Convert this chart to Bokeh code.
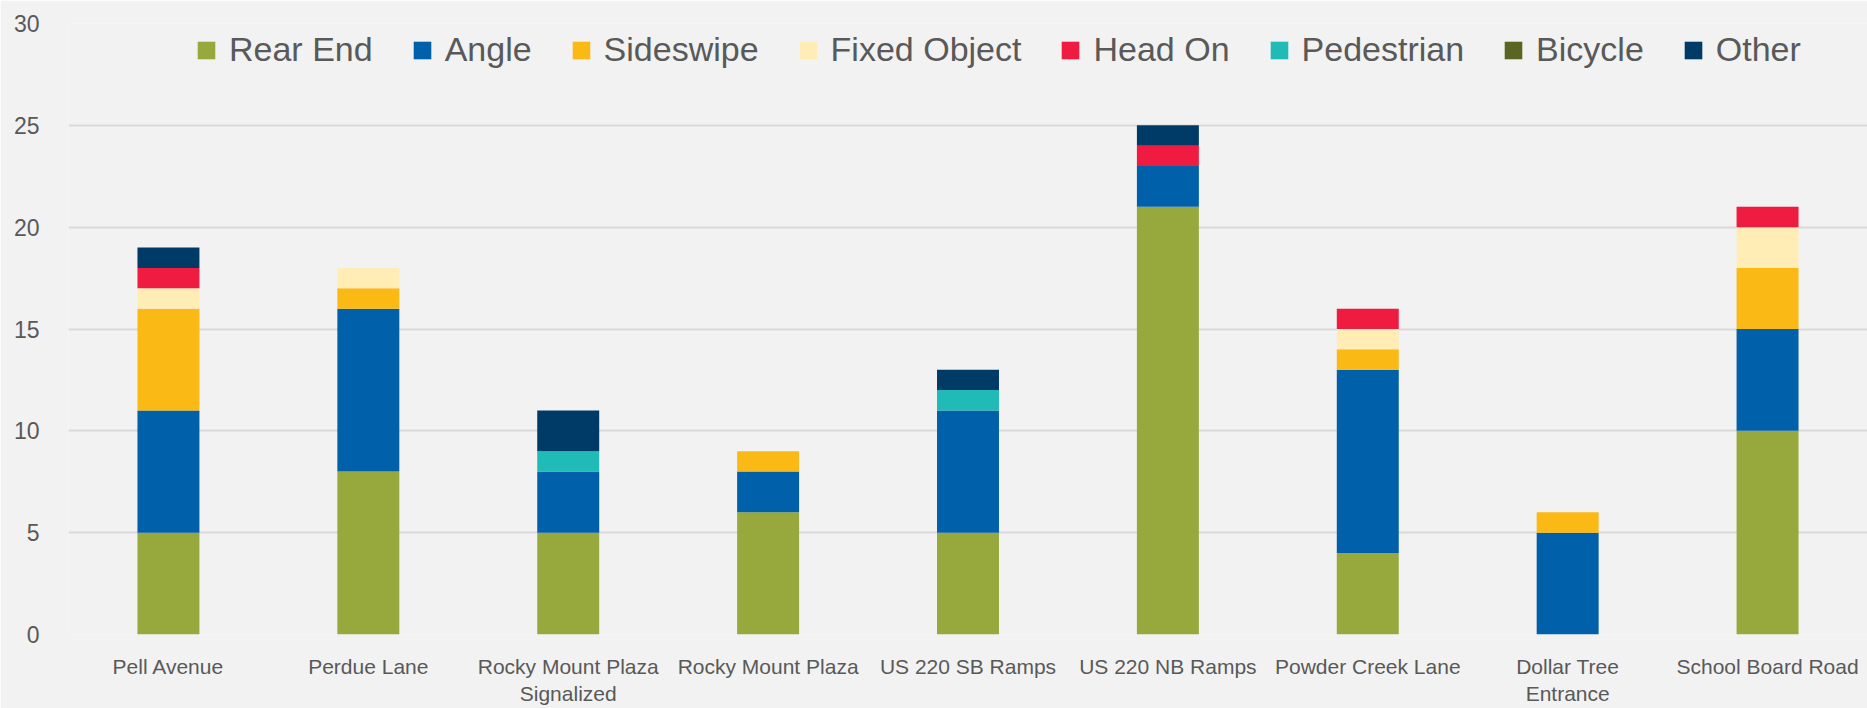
from bokeh.plotting import figure
from bokeh.models import FactorRange, Legend, LegendItem, SingleIntervalTicker
from bokeh.embed import file_html
from bokeh.resources import INLINE

categories = ["Pell Avenue", "Perdue Lane", "Rocky Mount Plaza\nSignalized", "Rocky Mount Plaza",
              "US 220 SB Ramps", "US 220 NB Ramps", "Powder Creek Lane", "Dollar Tree\nEntrance",
              "School Board Road"]
rear_end = [5, 8, 5, 6, 5, 21, 4, 0, 10]
angle = [6, 8, 3, 2, 6, 2, 9, 5, 5]
sideswipe = [5, 1, 0, 1, 0, 0, 1, 1, 3]
fixed_object = [1, 1, 0, 0, 0, 0, 1, 0, 2]
head_on = [1, 0, 0, 0, 0, 1, 1, 0, 1]
pedestrian = [0, 0, 1, 0, 1, 0, 0, 0, 0]
bicycle = [0, 0, 0, 0, 0, 0, 0, 0, 0]
other = [1, 0, 2, 0, 1, 1, 0, 0, 0]

series_names = ["Rear End", "Angle", "Sideswipe", "Fixed Object", "Head On", "Pedestrian", "Bicycle", "Other"]
series_values = [rear_end, angle, sideswipe, fixed_object, head_on, pedestrian, bicycle, other]
colors = ["#97A93C", "#0060AA", "#FBB915", "#FFEDB5", "#EF1B40", "#20BBB7", "#5A6521", "#003A66"]

data = {"cat": categories}
for n, v in zip(series_names, series_values):
    data[n] = v

FONT = "Liberation Sans"
TXT = "#595959"

p = figure(x_range=FactorRange(*categories, range_padding=0), y_range=(0, 30),
           width=1867, height=708, output_backend="svg", toolbar_location=None,
           min_border_left=68, min_border_right=0, min_border_top=23, min_border_bottom=74)
p.background_fill_color = "#F2F2F2"
p.border_fill_color = "#F2F2F2"
p.outline_line_color = None

rs = p.vbar_stack(series_names, x="cat", width=0.31, color=colors, source=data, line_color=None)

p.xgrid.grid_line_color = None
p.ygrid.grid_line_color = "#D9D9D9"
p.ygrid.grid_line_width = 2
p.yaxis.ticker = SingleIntervalTicker(interval=5)

for ax in (p.xaxis[0], p.yaxis[0]):
    ax.axis_line_color = None
    ax.major_tick_line_color = None
    ax.minor_tick_line_color = None
    ax.major_tick_out = 0
    ax.major_tick_in = 0
    ax.major_label_text_font = FONT
    ax.major_label_text_color = TXT
p.xaxis.major_label_text_font_size = "21px"
p.yaxis.major_label_text_font_size = "23px"
p.xaxis.major_label_standoff = 20
p.yaxis.major_label_standoff = 25

legend = Legend(items=[LegendItem(label=n, renderers=[r]) for n, r in zip(series_names, rs)],
                orientation="horizontal", location=(127, 565),
                label_text_font=FONT, label_text_font_size="34px", label_text_color=TXT,
                glyph_width=22, glyph_height=22, label_standoff=12, spacing=38,
                border_line_color=None, background_fill_alpha=0, margin=0, padding=5)
p.add_layout(legend, "center")

open("out.html", "w").write(file_html(p, INLINE))
